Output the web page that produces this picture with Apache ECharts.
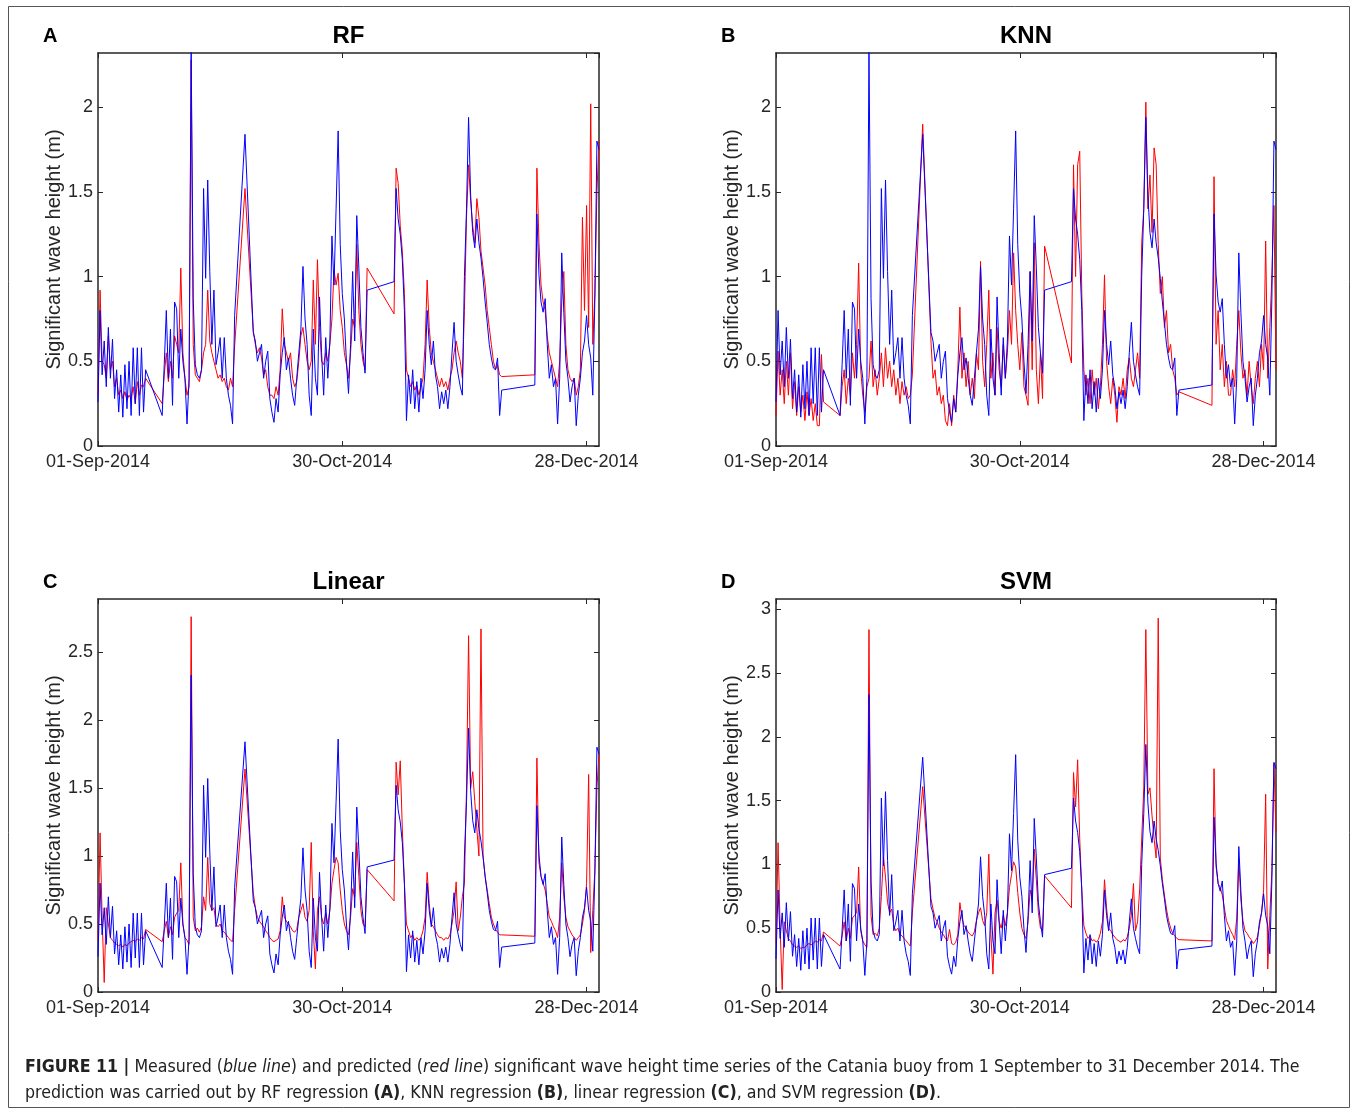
<!DOCTYPE html>
<html><head><meta charset="utf-8">
<script src="https://cdn.jsdelivr.net/npm/echarts@6/dist/echarts.min.js"></script>
<style>html,body{margin:0;padding:0;background:#fff;}#chart{width:1358px;height:1109px;}</style>
</head><body><div id="chart"></div>
<script>
// time step of the arrays (days since 01-Sep-2014)
const STEP_DAYS = 0.5;
const tickDays = [0, 59, 118];
const tickLabels = ['01-Sep-2014', '30-Oct-2014', '28-Dec-2014'];
const panelTitles = ['RF', 'KNN', 'Linear', 'SVM'];
const panelLetters = ['A', 'B', 'C', 'D'];
const yMaxes = [2.32, 2.32, 2.89, 3.08];
const yAxisTitle = 'Significant wave height (m)';

// measured significant wave height (blue), every 0.5 day, null = no data
const measured = [
0.26,0.80,0.42,0.62,0.35,0.70,0.40,0.63,0.28,0.45,
0.20,0.42,0.17,0.48,0.22,0.50,0.18,0.58,0.25,0.58,
0.18,0.58,0.20,0.45,null,null,null,null,null,null,
null,0.18,0.48,0.80,0.40,0.69,0.24,0.85,0.81,0.40,
0.69,0.50,0.40,0.13,0.40,2.33,0.87,0.48,0.42,0.40,
0.45,1.52,0.99,1.57,1.03,0.60,0.92,0.48,0.55,0.64,
0.40,0.64,0.40,0.30,0.24,0.13,0.77,null,null,null,
null,1.84,null,null,null,0.67,0.62,0.50,0.55,0.60,
0.40,0.50,0.56,0.28,0.20,0.14,0.28,0.20,0.42,0.55,
0.64,0.45,0.52,0.40,0.30,0.24,0.40,0.55,0.69,1.06,
0.75,0.60,0.30,0.18,0.69,0.40,0.30,0.88,0.55,0.30,
0.64,0.40,0.62,1.24,0.95,1.40,1.86,1.19,0.90,0.75,
0.50,0.31,0.60,1.03,0.62,1.36,1.05,0.70,0.55,0.43,
0.92,null,null,null,null,null,null,null,null,null,
null,null,null,0.97,1.52,1.34,1.25,1.10,0.80,0.15,
0.42,0.25,0.45,0.22,0.38,0.20,0.40,0.28,0.45,0.80,
0.60,0.48,0.62,0.42,0.35,0.22,0.32,0.25,0.33,0.22,
0.35,0.55,0.73,0.50,0.42,0.35,0.30,1.00,1.40,1.94,
1.48,1.26,1.17,1.34,1.20,1.11,0.99,0.85,0.73,0.60,
0.52,0.46,0.45,0.52,0.18,0.33,null,null,null,null,
null,null,null,null,null,null,null,null,null,null,
null,0.36,1.37,1.01,0.85,0.79,0.87,0.60,0.40,0.48,
0.35,0.40,0.13,0.40,1.14,0.79,0.50,0.40,0.26,0.35,
0.40,0.12,0.30,0.40,0.55,0.62,0.77,0.60,0.52,0.30,
0.87,1.80,1.75];

// predicted (red)
const predRF = [
0.30,0.92,0.50,0.48,0.40,0.65,0.45,0.50,0.35,0.40,
0.30,0.33,0.28,0.32,0.27,0.30,0.28,0.35,0.25,0.38,
0.30,0.36,0.35,0.40,null,null,null,null,null,null,
null,0.25,0.42,0.55,0.38,0.50,0.40,0.65,0.60,0.55,
1.05,0.55,0.40,0.30,0.35,2.28,0.60,0.42,0.40,0.38,
0.45,0.55,0.60,0.92,0.62,0.55,0.50,0.45,0.40,0.42,
0.38,0.40,0.35,0.33,0.40,0.35,0.59,null,null,null,
null,1.52,null,null,null,0.68,0.60,0.55,0.58,0.52,
0.42,0.45,0.35,0.30,0.30,0.28,0.35,0.30,0.45,0.81,
0.60,0.55,0.50,0.55,0.40,0.35,0.38,0.50,0.65,0.70,
0.60,0.50,0.45,0.50,0.98,0.60,1.10,0.70,0.50,0.48,
0.55,0.50,0.60,0.75,1.04,0.95,1.02,0.80,0.70,0.55,
0.48,0.40,0.55,0.75,0.70,1.19,0.80,0.60,0.50,0.45,
1.05,null,null,null,null,null,null,null,null,null,
null,null,null,0.78,1.64,1.55,1.30,1.15,0.90,0.45,
0.40,0.35,0.38,0.33,0.36,0.30,0.35,0.40,0.60,0.98,
0.70,0.55,0.50,0.45,0.40,0.35,0.40,0.35,0.38,0.33,
0.40,0.45,0.55,0.62,0.55,0.50,0.40,0.80,1.35,1.66,
1.45,1.30,1.20,1.46,1.35,1.15,1.05,0.95,0.80,0.70,
0.60,0.50,0.45,0.48,0.42,0.41,null,null,null,null,
null,null,null,null,null,null,null,null,null,null,
null,0.42,1.64,1.20,0.95,0.85,0.80,0.65,0.55,0.50,
0.45,0.40,0.35,0.50,0.85,1.03,0.60,0.45,0.40,0.38,
0.40,0.30,0.35,0.45,1.35,0.80,1.42,0.70,2.02,0.60,
0.90,1.50,1.80];

const predKNN = [
0.18,0.56,0.30,0.45,0.25,0.50,0.30,0.55,0.22,0.38,
0.18,0.35,0.20,0.30,0.15,0.32,0.18,0.28,0.15,0.25,
0.12,0.12,0.54,0.26,null,null,null,null,null,null,
null,0.18,0.35,0.45,0.25,0.40,0.30,0.55,0.40,0.60,
1.08,0.45,0.30,0.20,0.35,0.40,0.62,0.35,0.45,0.30,
0.40,0.55,0.35,0.58,0.40,0.50,0.35,0.45,0.30,0.40,
0.25,0.38,0.30,0.35,0.28,0.30,0.42,null,null,null,
null,1.90,null,null,null,0.62,0.40,0.45,0.30,0.35,
0.25,0.30,0.15,0.12,0.25,0.12,0.30,0.20,0.45,0.82,
0.40,0.55,0.35,0.50,0.30,0.40,0.28,0.55,0.45,1.09,
0.50,0.35,0.60,0.92,0.40,0.55,0.30,0.70,0.45,0.35,
0.60,0.40,0.55,0.80,0.60,1.14,0.80,0.60,0.45,0.67,
0.35,0.30,0.24,1.03,0.45,1.20,0.45,0.25,0.55,0.28,
1.18,null,null,null,null,null,null,null,null,null,
null,null,null,0.49,1.66,1.00,1.66,1.74,0.90,0.45,
0.30,0.40,0.25,0.45,0.30,0.40,0.22,0.35,0.60,1.01,
0.50,0.35,0.25,0.40,0.30,0.14,0.35,0.30,0.40,0.28,
0.45,0.52,0.40,0.35,0.45,0.55,0.40,1.20,1.40,2.03,
1.40,1.60,1.26,1.76,1.66,1.19,0.90,1.00,0.70,0.80,
0.55,0.60,0.45,0.40,0.30,0.32,null,null,null,null,
null,null,null,null,null,null,null,null,null,null,
null,0.24,1.59,0.60,0.80,0.45,0.60,0.35,0.50,0.30,
0.30,0.45,0.35,0.60,0.80,0.55,0.40,0.45,0.30,0.50,
0.35,0.25,0.40,0.50,0.35,0.60,0.45,1.21,0.40,0.70,
1.00,1.42,0.45];

const predLinear = [
0.38,1.17,0.55,0.07,0.62,0.50,0.40,0.38,0.36,0.35,
0.34,0.35,0.33,0.35,0.34,0.36,0.37,0.38,0.37,0.39,
0.38,0.40,0.39,0.46,null,null,null,null,null,null,
null,0.37,0.45,0.52,0.40,0.48,0.42,0.55,0.58,0.60,
0.95,0.50,0.40,0.38,0.35,2.76,0.55,0.45,0.47,0.44,
0.48,0.70,0.60,0.99,0.65,0.60,0.62,0.50,0.48,0.50,
0.45,0.44,0.42,0.40,0.38,0.37,0.60,null,null,null,
null,1.64,null,null,null,0.73,0.62,0.55,0.52,0.50,
0.48,0.45,0.43,0.40,0.38,0.37,0.38,0.39,0.45,0.70,
0.55,0.52,0.50,0.48,0.45,0.44,0.46,0.55,0.60,0.65,
0.55,0.52,0.60,1.10,0.45,0.17,0.60,0.70,0.55,0.50,
0.58,0.50,0.60,0.80,0.90,0.99,0.95,0.75,0.60,0.50,
0.45,0.42,0.55,0.76,0.70,1.10,0.85,0.60,0.50,0.48,
0.90,null,null,null,null,null,null,null,null,null,
null,null,null,0.67,1.69,1.45,1.70,1.20,0.80,0.50,
0.45,0.40,0.42,0.38,0.40,0.38,0.40,0.45,0.55,0.88,
0.65,0.50,0.48,0.45,0.42,0.40,0.40,0.38,0.40,0.39,
0.42,0.50,0.60,0.81,0.45,0.55,0.70,0.80,1.50,2.62,
1.50,1.62,1.40,1.20,1.00,2.67,1.00,0.85,0.75,0.65,
0.55,0.50,0.46,0.44,0.42,0.42,null,null,null,null,
null,null,null,null,null,null,null,null,null,null,
null,0.41,1.72,0.95,0.85,0.80,0.75,0.65,0.55,0.52,
0.48,0.45,0.40,0.55,0.95,0.70,0.55,0.48,0.45,0.42,
0.40,0.38,0.40,0.42,0.50,0.60,0.80,1.60,0.29,0.60,
0.90,1.50,1.75];

const predSVM = [
0.38,1.17,0.50,0.02,0.55,0.48,0.42,0.40,0.37,0.36,
0.35,0.36,0.34,0.35,0.35,0.37,0.38,0.37,0.38,0.40,
0.39,0.41,0.40,0.47,null,null,null,null,null,null,
null,0.36,0.44,0.55,0.40,0.50,0.42,0.58,0.60,0.62,
0.98,0.48,0.40,0.37,0.35,2.84,0.60,0.45,0.46,0.44,
0.50,0.75,1.06,0.90,0.70,0.62,0.65,0.52,0.48,0.50,
0.45,0.44,0.42,0.40,0.38,0.36,0.62,null,null,null,
null,1.61,null,null,null,0.73,0.65,0.58,0.55,0.50,
0.47,0.45,0.42,0.40,0.49,0.38,0.37,0.39,0.45,0.70,
0.58,0.52,0.50,0.47,0.45,0.44,0.47,0.56,0.62,0.66,
0.56,0.52,0.62,1.08,0.45,0.14,0.62,0.72,0.55,0.50,
0.60,0.52,0.62,0.82,0.92,1.02,0.98,0.78,0.62,0.50,
0.45,0.42,0.55,0.80,0.72,1.12,0.88,0.62,0.50,0.48,
0.91,null,null,null,null,null,null,null,null,null,
null,null,null,0.66,1.72,1.45,1.82,1.20,0.80,0.52,
0.46,0.42,0.44,0.40,0.41,0.39,0.41,0.46,0.55,0.88,
0.66,0.50,0.48,0.45,0.43,0.41,0.40,0.39,0.41,0.40,
0.43,0.50,0.60,0.85,0.48,0.55,0.80,1.20,1.60,2.84,
1.55,1.60,1.38,1.20,1.05,2.93,1.05,0.88,0.76,0.65,
0.56,0.50,0.46,0.44,0.42,0.41,null,null,null,null,
null,null,null,null,null,null,null,null,null,null,
null,0.40,1.75,0.98,0.85,0.82,0.76,0.66,0.56,0.52,
0.48,0.45,0.41,0.58,1.04,0.72,0.56,0.48,0.46,0.43,
0.41,0.38,0.40,0.43,0.52,0.62,0.80,1.55,0.18,0.60,
0.95,1.79,1.25];

const predictions = [predRF, predKNN, predLinear, predSVM];

const chart = echarts.init(document.getElementById('chart'), null, {renderer: 'canvas'});
const FONT = 'Liberation Sans, Arial, Helvetica, sans-serif';
const AX = '#262626';
const grids = [
  {left: 98, top: 53, width: 501, height: 393},
  {left: 776, top: 53, width: 500, height: 393},
  {left: 98, top: 599, width: 501, height: 393},
  {left: 776, top: 599, width: 500, height: 393}
];
const toPairs = arr => arr.map((v, k) => [k * STEP_DAYS, v]);
const xLabel = v => { const i = tickDays.indexOf(v); return i >= 0 ? tickLabels[i] : ''; };

const xAxis = [], yAxis = [], series = [], graphic = [];
grids.forEach((g, i) => {
  const common = {type: 'value', gridIndex: i, min: 0, max: 121, interval: 59,
    axisLine: {show: true, onZero: false, lineStyle: {color: AX, width: 1.5}},
    axisTick: {show: true, inside: true, length: 5, lineStyle: {color: AX, width: 1}},
    splitLine: {show: false}};
  xAxis.push(Object.assign({}, common, {position: 'bottom',
    axisLabel: {show: true, formatter: xLabel, fontSize: 18, color: AX, margin: 7, fontFamily: FONT, showMinLabel: true, showMaxLabel: false}}));
  xAxis.push(Object.assign({}, common, {position: 'top', axisLabel: {show: false}}));
  const yc = {type: 'value', gridIndex: i, min: 0, max: yMaxes[i], interval: 0.5,
    axisLine: {show: true, onZero: false, lineStyle: {color: AX, width: 1.5}},
    axisTick: {show: true, inside: true, length: 5, lineStyle: {color: AX, width: 1}},
    splitLine: {show: false}};
  yAxis.push(Object.assign({}, yc, {position: 'left',
    axisLabel: {show: true, fontSize: 18, color: AX, margin: 5, fontFamily: FONT, showMinLabel: true, showMaxLabel: false},
    name: yAxisTitle, nameLocation: 'middle', nameGap: 34, nameMoveOverlap: false,
    nameTextStyle: {fontSize: 20, color: AX, fontFamily: FONT}}));
  yAxis.push(Object.assign({}, yc, {position: 'right', axisLabel: {show: false}}));
  series.push({type: 'line', name: 'predicted', xAxisIndex: 2 * i, yAxisIndex: 2 * i,
    data: toPairs(predictions[i]), showSymbol: false, symbol: 'none', connectNulls: true,
    lineStyle: {color: '#ff0000', width: 1}, itemStyle: {color: '#ff0000'}, z: 2, clip: true, silent: true});
  series.push({type: 'line', name: 'measured', xAxisIndex: 2 * i, yAxisIndex: 2 * i,
    data: toPairs(measured), showSymbol: false, symbol: 'none', connectNulls: true,
    lineStyle: {color: '#0000ff', width: 1}, itemStyle: {color: '#0000ff'}, z: 3, clip: true, silent: true});
  graphic.push({type: 'text', x: g.left + g.width / 2, y: g.top - 17,
    style: {text: panelTitles[i], font: 'bold 24px ' + FONT, fill: '#000', align: 'center', verticalAlign: 'middle'}});
  graphic.push({type: 'text', x: g.left - 55, y: g.top - 17,
    style: {text: panelLetters[i], font: 'bold 20px ' + FONT, fill: '#000', align: 'left', verticalAlign: 'middle'}});
});

const CAP_FAMILY = '"Liberation Sans Narrow", "DejaVu Sans Condensed", ' + FONT;
const CAP_FONT = '17.6px ' + CAP_FAMILY;
const capRich = {
  b: {font: 'bold 17.6px ' + CAP_FAMILY, fill: '#222'},
  i: {font: 'italic 17.6px ' + CAP_FAMILY, fill: '#222'}
};
graphic.push({type: 'rect', shape: {x: 8.5, y: 6.5, width: 1341, height: 1101},
  style: {fill: 'none', stroke: '#555', lineWidth: 1}, silent: true});
graphic.push({type: 'text', x: 25, y: 1067,
  style: {text: '{b|FIGURE 11 |} Measured ({i|blue line}) and predicted ({i|red line}) significant wave height time series of the Catania buoy from 1 September to 31 December 2014. The',
    font: CAP_FONT, fill: '#222', rich: capRich, align: 'left', verticalAlign: 'middle'}});
graphic.push({type: 'text', x: 25, y: 1093,
  style: {text: 'prediction was carried out by RF regression {b|(A)}, KNN regression {b|(B)}, linear regression {b|(C)}, and SVM regression {b|(D)}.',
    font: CAP_FONT, fill: '#222', rich: capRich, align: 'left', verticalAlign: 'middle'}});

chart.setOption({
  animation: false,
  backgroundColor: '#fff',
  grid: grids.map(g => Object.assign({containLabel: false, outerBoundsMode: 'none'}, g)),
  xAxis, yAxis, series, graphic,
  tooltip: {show: false}
});
</script></body></html>
